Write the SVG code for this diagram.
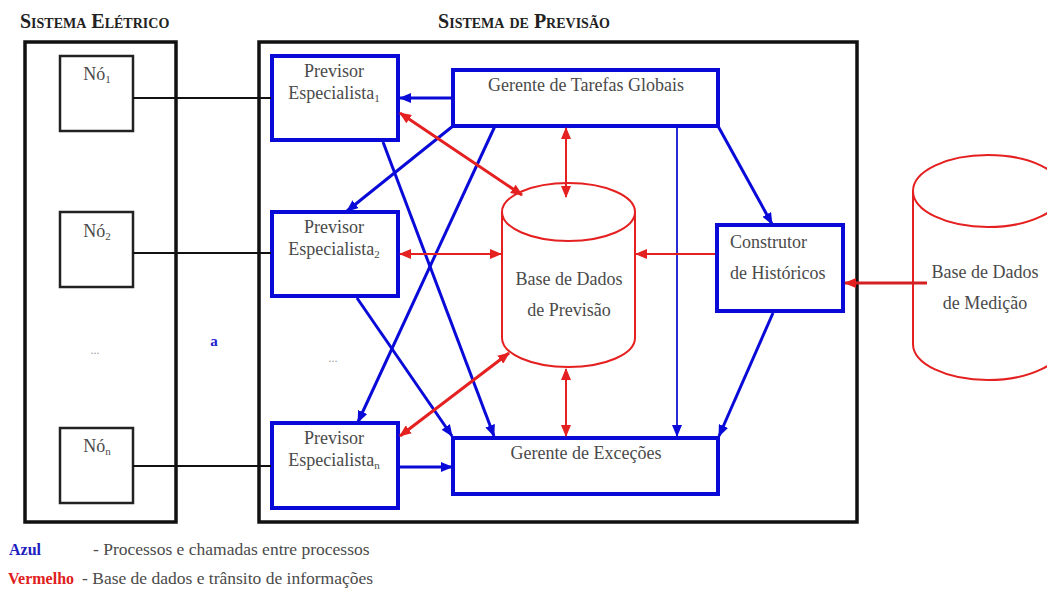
<svg xmlns="http://www.w3.org/2000/svg" width="1047" height="604" viewBox="0 0 1047 604">
<style>
.frame{fill:none;stroke:#111;stroke-width:3.5}
.node{fill:#fff;stroke:#222;stroke-width:2.5}
.proc{fill:#fff;stroke:#0a0ad8;stroke-width:4}
.db{fill:none;stroke:#e52020;stroke-width:2}
text{font-family:"Liberation Serif","Times New Roman","DejaVu Serif",serif}
.t{font-size:18px;fill:#4a4a4a}
.s{font-size:17.5px;fill:#4a4a4a}
.lg{font-size:16px;font-weight:bold}
.sub{font-size:11px}
.dots{font-size:12px;fill:#999}
.title{font-size:20px;font-weight:bold;fill:#222;font-variant:small-caps}
.b{stroke:#0a0ad8;stroke-width:3;fill:none}
.bt{stroke:#2a2ad8;stroke-width:2;fill:none}
.r{stroke:#e52020;stroke-width:3;fill:none}
.rt{stroke:#e52020;stroke-width:2;fill:none}
.k{stroke:#111;stroke-width:2;fill:none}
</style>
<defs>
<marker id="ab" markerUnits="userSpaceOnUse" markerWidth="12" markerHeight="10" refX="11" refY="5" orient="auto-start-reverse"><path d="M0,0 L12,5 L0,10 Z" fill="#0a0ad8"/></marker>
<marker id="ar" markerUnits="userSpaceOnUse" markerWidth="12" markerHeight="10" refX="11" refY="5" orient="auto-start-reverse"><path d="M0,0 L12,5 L0,10 Z" fill="#e52020"/></marker>
</defs>
<rect width="1047" height="604" fill="#fff"/>

<text class="title" x="20" y="28">Sistema Elétrico</text>
<text class="title" x="524" y="28" text-anchor="middle">Sistema de Previsão</text>

<rect class="frame" x="25" y="42" width="151" height="480"/>
<rect class="frame" x="259" y="42" width="598" height="480"/>

<g id="no1"><rect class="node" x="60" y="56" width="73" height="75"/><text class="t" x="97" y="80" text-anchor="middle">Nó<tspan class="sub" dy="3">1</tspan></text></g>
<g id="no2"><rect class="node" x="60" y="212" width="73" height="75"/><text class="t" x="97" y="237" text-anchor="middle">Nó<tspan class="sub" dy="3">2</tspan></text></g>
<g id="non"><rect class="node" x="60" y="428" width="73" height="75"/><text class="t" x="97" y="452" text-anchor="middle">Nó<tspan class="sub" dy="3">n</tspan></text></g>
<text class="dots" x="95" y="354" text-anchor="middle">...</text>
<text x="214" y="346" text-anchor="middle" style="font-size:15px;font-weight:bold;fill:#2020d0">a</text>
<text class="dots" x="333" y="362" text-anchor="middle">...</text>

<g id="prev1"><rect class="proc" x="272" y="56" width="126" height="84"/><text class="t" x="334" y="77" text-anchor="middle">Previsor</text><text class="t" x="334" y="99" text-anchor="middle">Especialista<tspan class="sub" dy="3">1</tspan></text></g>
<g id="prev2"><rect class="proc" x="272" y="212" width="126" height="84"/><text class="t" x="334" y="233" text-anchor="middle">Previsor</text><text class="t" x="334" y="255" text-anchor="middle">Especialista<tspan class="sub" dy="3">2</tspan></text></g>
<g id="prevn"><rect class="proc" x="272" y="423" width="126" height="85"/><text class="t" x="334" y="444" text-anchor="middle">Previsor</text><text class="t" x="334" y="466" text-anchor="middle">Especialista<tspan class="sub" dy="3">n</tspan></text></g>

<g id="gtg"><rect class="proc" x="453" y="70" width="265" height="56"/><text class="t" x="586" y="91" text-anchor="middle">Gerente de Tarefas Globais</text></g>
<g id="gex"><rect class="proc" x="453" y="438" width="265" height="56"/><text class="t" x="586" y="459" text-anchor="middle">Gerente de Exceções</text></g>
<g id="const"><rect class="proc" x="717" y="225" width="126" height="86"/><text class="t" x="730" y="248">Construtor</text><text class="t" x="730" y="279">de Históricos</text></g>

<g id="bdprev">
<path class="db" d="M502,212 L502,338 A66.5,29 0 0,0 635,338 L635,212"/>
<ellipse class="db" cx="568.5" cy="212" rx="66.5" ry="29"/>
<text class="t" x="569" y="285" text-anchor="middle">Base de Dados</text>
<text class="t" x="569" y="316" text-anchor="middle">de Previsão</text>
</g>

<g id="bdmed">
<path class="db" d="M913,191 L913,344 A75,36 0 0,0 1063,344 L1063,191"/>
<ellipse class="db" cx="988" cy="191" rx="75" ry="36"/>
<text class="t" x="985" y="278" text-anchor="middle">Base de Dados</text>
<text class="t" x="985" y="309" text-anchor="middle">de Medição</text>
</g>

<g id="connectors">
<line class="k" x1="133" y1="98" x2="271" y2="98"/>
<line class="k" x1="133" y1="253" x2="271" y2="253"/>
<line class="k" x1="133" y1="466" x2="271" y2="466"/>

<line class="b" x1="453" y1="98" x2="400" y2="98" marker-end="url(#ab)"/>
<line class="b" x1="453" y1="126" x2="347" y2="211" marker-end="url(#ab)"/>
<line class="b" x1="495" y1="126" x2="358" y2="422" marker-end="url(#ab)"/>
<line class="bt" x1="677" y1="128" x2="677" y2="436" marker-end="url(#ab)"/>
<line class="b" x1="718" y1="126" x2="772" y2="224" marker-end="url(#ab)"/>
<line class="b" x1="773" y1="313" x2="719" y2="436" marker-end="url(#ab)"/>
<line class="b" x1="383" y1="142" x2="494" y2="436" marker-end="url(#ab)"/>
<line class="b" x1="357" y1="298" x2="452" y2="436" marker-end="url(#ab)"/>
<line class="b" x1="400" y1="467" x2="452" y2="467" marker-end="url(#ab)"/>

<line class="r" x1="400" y1="113" x2="522" y2="195" marker-start="url(#ar)" marker-end="url(#ar)"/>
<line class="rt" x1="566" y1="128" x2="566" y2="197" marker-start="url(#ar)" marker-end="url(#ar)"/>
<line class="rt" x1="400" y1="254" x2="501" y2="254" marker-start="url(#ar)" marker-end="url(#ar)"/>
<line class="rt" x1="715" y1="254" x2="636" y2="254" marker-end="url(#ar)"/>
<line class="r" x1="400" y1="436" x2="509" y2="353" marker-start="url(#ar)" marker-end="url(#ar)"/>
<line class="rt" x1="566" y1="369" x2="566" y2="436" marker-start="url(#ar)" marker-end="url(#ar)"/>
<line class="r" x1="927" y1="283" x2="845" y2="283" marker-end="url(#ar)" style="stroke:#d42020"/>
</g>

<g id="legend">
<text class="lg" x="9" y="555" fill="#2020c0" style="fill:#2020c0">Azul</text>
<text class="s" x="93" y="555">- Processos e chamadas entre processos</text>
<text class="lg" x="8" y="584" style="fill:#e02020">Vermelho</text>
<text class="s" x="82" y="584">- Base de dados e trânsito de informações</text>
</g>
</svg>
